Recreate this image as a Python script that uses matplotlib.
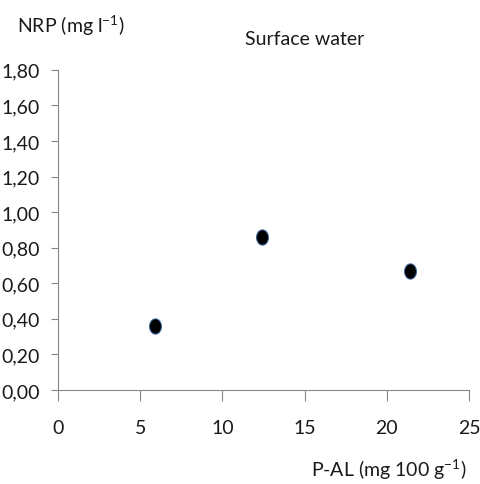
import numpy as np
from matplotlib import pyplot as plt

# P-AL in soil vs NRP in surface water
p_al = [5.9, 12.4, 21.4]
nrp = [0.36, 0.86, 0.67]

x_ticks = [0, 5, 10, 15, 20, 25]
y_ticks = np.arange(0, 1.81, 0.2)
y_labels = ['%.2f' % v for v in y_ticks]
y_labels = [s.replace('.', ',') for s in y_labels]

plt.rcParams['font.family'] = ['Lato', 'DejaVu Sans']
plt.rcParams['mathtext.fontset'] = 'custom'
plt.rcParams['mathtext.rm'] = 'Lato'

# slightly tall oval marker
t = np.linspace(0, 2 * np.pi, 40)
oval = np.column_stack([0.78 * np.cos(t), np.sin(t)])

fig = plt.figure(figsize=(4.8, 4.85), dpi=100)
ax = fig.add_axes([0.121, 0.194, 0.856, 0.66])
ax.plot(p_al, nrp, linestyle='none', marker=oval, color='black', markersize=11,
        markeredgecolor='#3a64a0', markeredgewidth=0.7)

ax.set_xlim(0, 25)
ax.set_ylim(0, 1.8)
ax.set_xticks(x_ticks)
ax.set_yticks(y_ticks)
ax.set_yticklabels(y_labels)
ax.spines['top'].set_visible(False)
ax.spines['right'].set_visible(False)
for s in ['left', 'bottom']:
    ax.spines[s].set_color('#868686')
    ax.spines[s].set_linewidth(0.8)
ax.tick_params(axis='both', colors='#868686', labelcolor='#1a1a1a',
               labelsize=14, width=0.8)
ax.tick_params(axis='x', pad=13, length=8)
ax.tick_params(axis='y', pad=8, length=5)

fig.text(0.635, 0.918, 'Surface water', ha='center', va='center',
         fontsize=14, color='#1a1a1a')
fig.text(0.035, 0.948, r'NRP (mg l$^{\mathregular{-1}}$)', ha='left', va='center',
         fontsize=14, color='#1a1a1a')
fig.text(0.972, 0.032, r'P-AL (mg 100 g$^{\mathregular{-1}}$)', ha='right', va='center',
         fontsize=14, color='#1a1a1a')

plt.savefig('out.png')
